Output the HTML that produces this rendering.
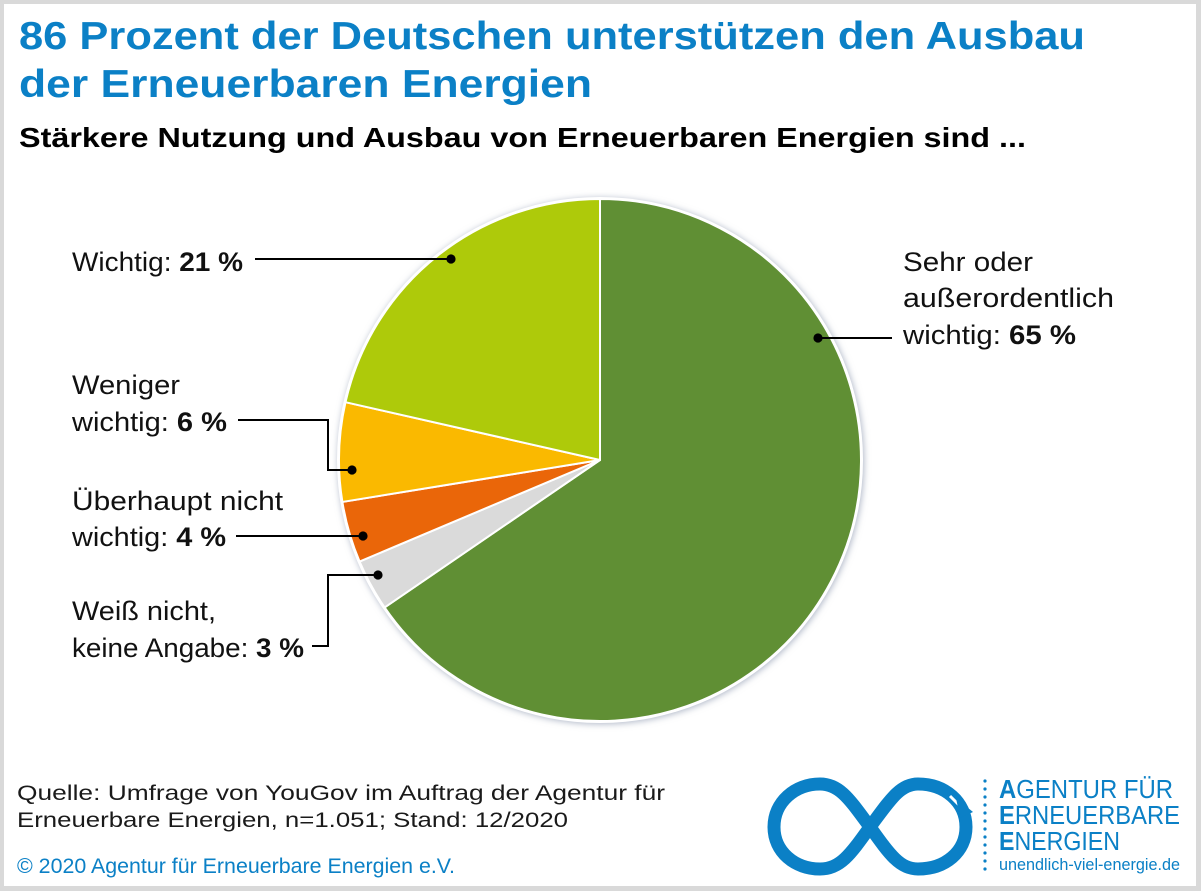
<!DOCTYPE html>
<html lang="de">
<head>
<meta charset="utf-8">
<style>
  html,body{margin:0;padding:0;background:#d9d9d9;}
  body{width:1201px;height:891px;overflow:hidden;}
  svg{display:block;}
  text{font-family:"Liberation Sans","DejaVu Sans",sans-serif;}
</style>
</head>
<body>
<svg width="1201" height="891" viewBox="0 0 1201 891" xmlns="http://www.w3.org/2000/svg">
  <defs>
    <filter id="sh" x="-10%" y="-10%" width="120%" height="120%">
      <feGaussianBlur stdDeviation="3.5"/>
    </filter>
  </defs>
  <rect x="0" y="0" width="1201" height="891" fill="#d9d9d9"/>
  <rect x="4" y="4" width="1192" height="882" fill="#ffffff"/>

  <!-- Titles -->
  <text x="19" y="49" font-size="39" font-weight="bold" fill="#0b80c6" textLength="1066" lengthAdjust="spacingAndGlyphs">86 Prozent der Deutschen unterstützen den Ausbau</text>
  <text x="19" y="97" font-size="39" font-weight="bold" fill="#0b80c6" textLength="573" lengthAdjust="spacingAndGlyphs">der Erneuerbaren Energien</text>
  <text x="19" y="147" font-size="28" font-weight="bold" fill="#000" textLength="1007" lengthAdjust="spacingAndGlyphs">Stärkere Nutzung und Ausbau von Erneuerbaren Energien sind ...</text>

  <!-- Pie shadow -->
  <circle cx="601" cy="461" r="263" fill="#aeb6c6" filter="url(#sh)"/>
  <circle cx="600" cy="460" r="263" fill="#ffffff"/>

  <!-- Pie slices -->
  <g stroke="#ffffff" stroke-width="2" stroke-linejoin="round">
    <path d="M600,460 L600,199 A261,261 0 1 1 384.65,607.47 Z" fill="#608f34"/>
    <path d="M600,460 L384.65,607.47 A261,261 0 0 1 359.57,561.56 Z" fill="#dadada"/>
    <path d="M600,460 L359.57,561.56 A261,261 0 0 1 342.39,501.94 Z" fill="#ea6609"/>
    <path d="M600,460 L342.39,501.94 A261,261 0 0 1 345.5,402.19 Z" fill="#fab900"/>
    <path d="M600,460 L345.5,402.19 A261,261 0 0 1 600,199 Z" fill="#aeca0a"/>
  </g>

  <!-- Leaders -->
  <g stroke="#000" stroke-width="2" fill="none">
    <line x1="255" y1="259" x2="451" y2="259"/>
    <line x1="818" y1="338" x2="892" y2="338"/>
    <polyline points="238,420 328,420 328,470 352,470"/>
    <line x1="236" y1="536" x2="363" y2="536"/>
    <polyline points="312,646 328,646 328,575 378,575"/>
  </g>
  <g fill="#000">
    <circle cx="451" cy="259" r="4.6"/>
    <circle cx="818" cy="338" r="4.6"/>
    <circle cx="352" cy="470" r="4.6"/>
    <circle cx="363" cy="536" r="4.6"/>
    <circle cx="378" cy="575" r="4.6"/>
  </g>

  <!-- Labels -->
  <g font-size="27" fill="#111">
    <text x="72" y="271" textLength="171" lengthAdjust="spacingAndGlyphs">Wichtig: <tspan font-weight="bold">21 %</tspan></text>
    <text x="72" y="394" textLength="108" lengthAdjust="spacingAndGlyphs">Weniger</text>
    <text x="72" y="431" textLength="155" lengthAdjust="spacingAndGlyphs">wichtig: <tspan font-weight="bold">6 %</tspan></text>
    <text x="72" y="510" textLength="211" lengthAdjust="spacingAndGlyphs">Überhaupt nicht</text>
    <text x="72" y="546" textLength="154" lengthAdjust="spacingAndGlyphs">wichtig: <tspan font-weight="bold">4 %</tspan></text>
    <text x="72" y="620" textLength="144" lengthAdjust="spacingAndGlyphs">Weiß nicht,</text>
    <text x="72" y="657" textLength="232" lengthAdjust="spacingAndGlyphs">keine Angabe: <tspan font-weight="bold">3 %</tspan></text>
    <text x="903" y="271" textLength="130" lengthAdjust="spacingAndGlyphs">Sehr oder</text>
    <text x="903" y="307" textLength="211" lengthAdjust="spacingAndGlyphs">außerordentlich</text>
    <text x="903" y="344" textLength="173" lengthAdjust="spacingAndGlyphs">wichtig: <tspan font-weight="bold">65 %</tspan></text>
  </g>

  <!-- Footer -->
  <g font-size="21">
    <text x="17" y="800" fill="#1a1a1a" textLength="648" lengthAdjust="spacingAndGlyphs">Quelle: Umfrage von YouGov im Auftrag der Agentur für</text>
    <text x="17" y="827" fill="#1a1a1a" textLength="551" lengthAdjust="spacingAndGlyphs">Erneuerbare Energien, n=1.051; Stand: 12/2020</text>
    <text x="17" y="873" fill="#0b80c6" textLength="438" lengthAdjust="spacingAndGlyphs">© 2020 Agentur für Erneuerbare Energien e.V.</text>
  </g>

  <!-- Logo -->
  <path d="M870,827 C890,800 900,784 918,784 C945,784 966,802 966,827 C966,852 945,869 918,869 C900,869 890,855 870,827 C850,800 840,784 820,784 C795,784 774,802 774,827 C774,852 795,869 820,869 C840,869 850,855 870,827 Z"
        fill="none" stroke="#0b80c6" stroke-width="13"/>
  <line x1="950" y1="796" x2="962" y2="808" stroke="#ffffff" stroke-width="3"/>
  <polygon points="956,798 973,812 960,818" fill="#0b80c6"/>
  <line x1="985" y1="781" x2="985" y2="873" stroke="#0b80c6" stroke-width="3.2" stroke-linecap="round" stroke-dasharray="0 8"/>
  <g fill="#0b80c6">
    <text x="999" y="798" font-size="26" textLength="174" lengthAdjust="spacingAndGlyphs"><tspan font-weight="bold">A</tspan>GENTUR FÜR</text>
    <text x="999" y="824" font-size="26" textLength="181" lengthAdjust="spacingAndGlyphs"><tspan font-weight="bold">E</tspan>RNEUERBARE</text>
    <text x="999" y="850" font-size="26" textLength="121" lengthAdjust="spacingAndGlyphs"><tspan font-weight="bold">E</tspan>NERGIEN</text>
    <text x="999" y="870" font-size="17" textLength="181" lengthAdjust="spacingAndGlyphs">unendlich-viel-energie.de</text>
  </g>
</svg>
</body>
</html>
